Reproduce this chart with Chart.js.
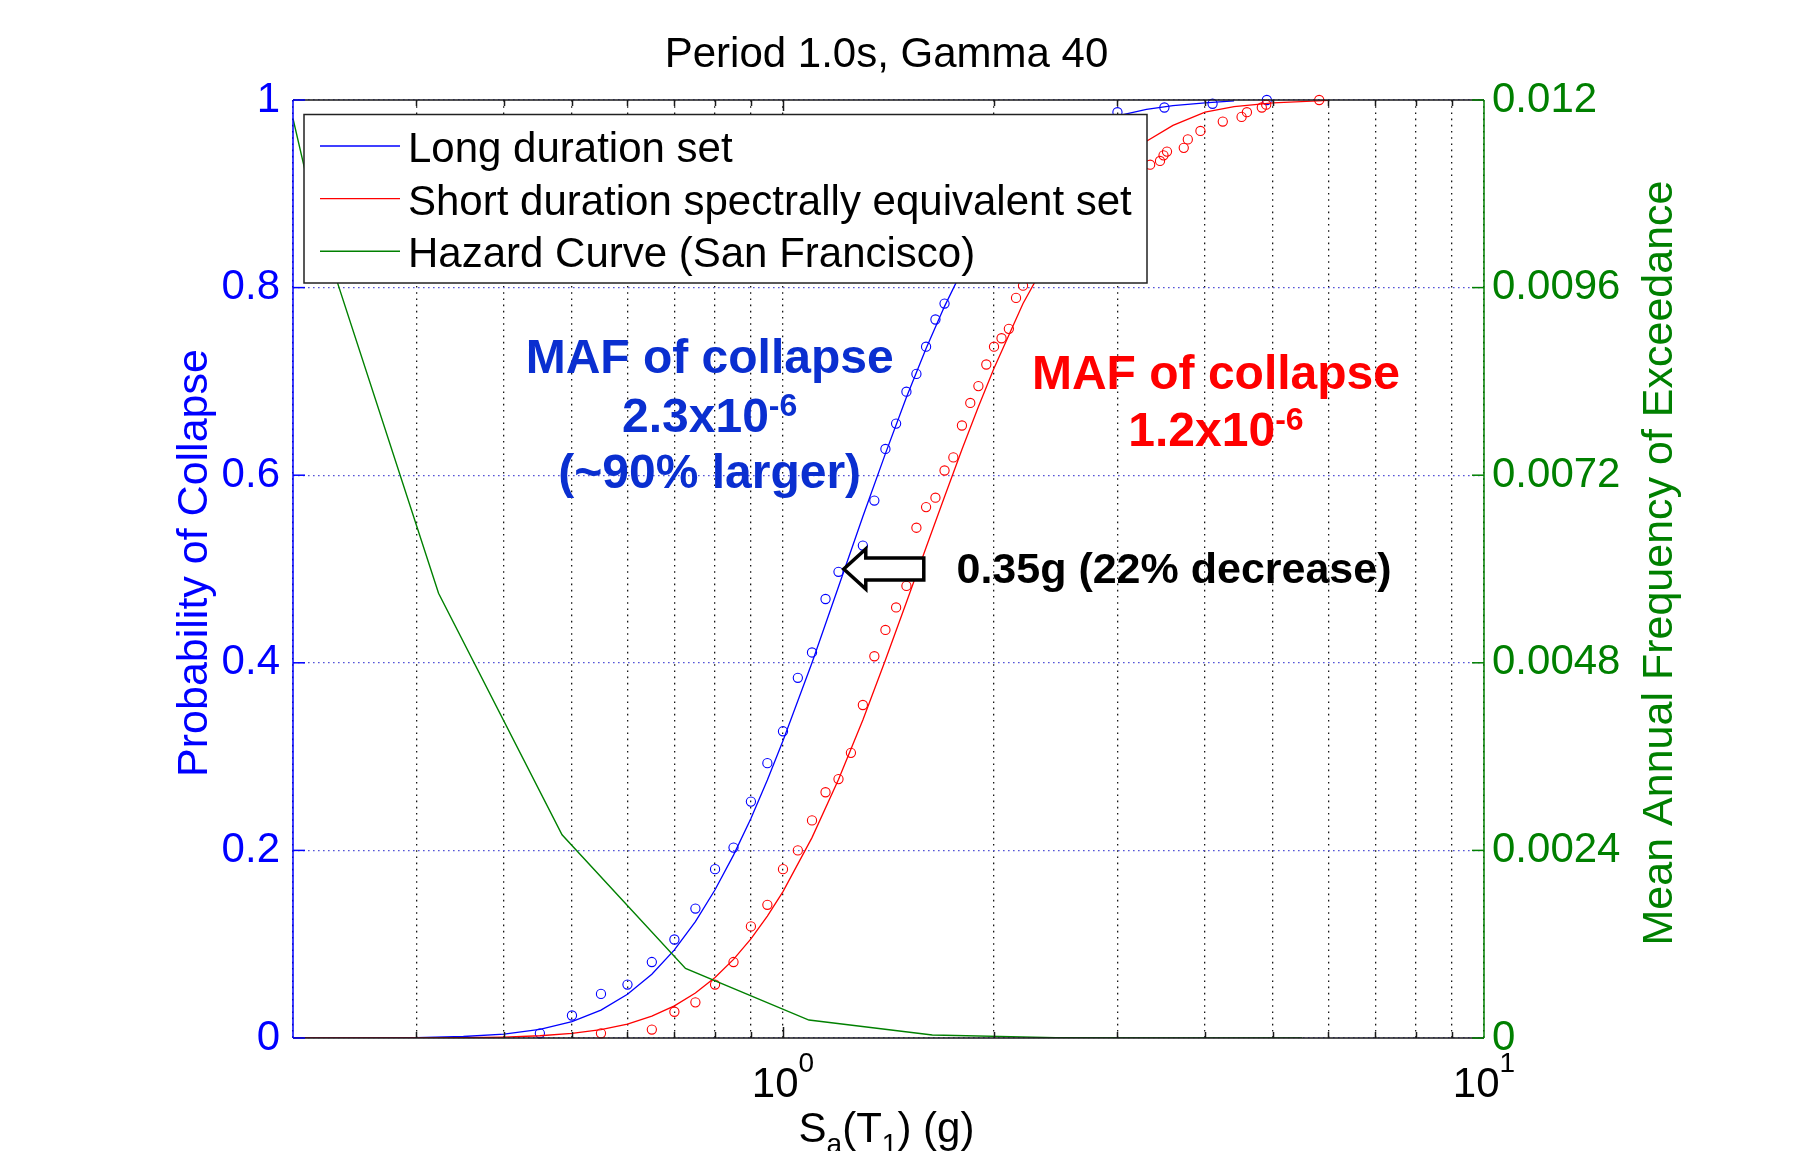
<!DOCTYPE html>
<html>
<head>
<meta charset="utf-8">
<title>Period 1.0s, Gamma 40</title>
<script src="https://cdn.jsdelivr.net/npm/chart.js@4/dist/chart.umd.min.js"></script>
<style>
  html, body { margin: 0; padding: 0; background: #ffffff; }
  #wrap { width: 1804px; height: 1151px; position: relative; }
</style>
</head>
<body>
<div id="wrap"><canvas id="chart"></canvas></div>
<script>
// axis ticks
const xTicks = [0.2, 0.3, 0.4, 0.5, 0.6, 0.7, 0.8, 0.9, 1, 2, 3, 4, 5, 6, 7, 8, 9, 10];
const xDecades = [1, 10];
const xDecadeExp = ['0', '1'];
const yTicks = [0, 0.2, 0.4, 0.6, 0.8, 1];
const yTickLabels = ['0', '0.2', '0.4', '0.6', '0.8', '1'];
const y2Ticks = [0, 0.0024, 0.0048, 0.0072, 0.0096, 0.012];
const y2TickLabels = ['0', '0.0024', '0.0048', '0.0072', '0.0096', '0.012'];

// fitted fragility curve, long duration set
const longFitSa = [0.2, 0.25, 0.3, 0.35, 0.4, 0.45, 0.5, 0.55, 0.6, 0.65, 0.7, 0.75, 0.8, 0.85, 0.9, 0.95, 1.0,
  1.1, 1.2, 1.3, 1.4, 1.5, 1.6, 1.7, 1.8, 1.9, 2.0, 2.2, 2.4, 2.6, 2.8, 3.0, 3.3, 3.6, 4.0, 4.4];
const longFitP = [0, 0.0001, 0.0005, 0.0016, 0.0042, 0.0092, 0.0175, 0.0298, 0.0466, 0.068, 0.094, 0.124, 0.158, 0.195, 0.234, 0.275, 0.317,
  0.400, 0.481, 0.556, 0.623, 0.683, 0.735, 0.780, 0.818, 0.849, 0.876, 0.916, 0.943, 0.962, 0.974, 0.983, 0.990, 0.994, 0.997, 0.999];

// fitted fragility curve, short duration set
const shortFitSa = [0.2, 0.25, 0.3, 0.35, 0.4, 0.45, 0.5, 0.55, 0.6, 0.65, 0.7, 0.75, 0.8, 0.85, 0.9, 0.95, 1.0,
  1.1, 1.2, 1.3, 1.4, 1.5, 1.6, 1.7, 1.8, 1.9, 2.0, 2.2, 2.4, 2.6, 2.8, 3.0, 3.3, 3.6, 4.0, 4.4, 5.0, 6.0];
const shortFitP = [0, 0.00005, 0.0001, 0.0003, 0.001, 0.0024, 0.0049, 0.0089, 0.0149, 0.0233, 0.0342, 0.048, 0.0645, 0.0838, 0.1056, 0.130, 0.156,
  0.2136, 0.2756, 0.339, 0.403, 0.4645, 0.523, 0.577, 0.6275, 0.673, 0.714, 0.783, 0.834, 0.874, 0.905, 0.930, 0.956, 0.973, 0.987, 0.993, 0.997, 0.9995];

// observed fraction of collapses, long duration set
const longSa = [0.45, 0.5, 0.55, 0.6, 0.65, 0.7, 0.75, 0.8, 0.85, 0.9, 0.95, 1.0, 1.05, 1.1, 1.15, 1.2,
  1.3, 1.35, 1.4, 1.45, 1.5, 1.55, 1.6, 1.65, 1.7, 3.0, 3.5, 4.1, 4.9];
const longP = [0.005, 0.024, 0.047, 0.057, 0.081, 0.105, 0.138, 0.180, 0.203, 0.252, 0.293, 0.327, 0.384, 0.411, 0.468, 0.497,
  0.525, 0.573, 0.628, 0.655, 0.689, 0.708, 0.737, 0.766, 0.783, 0.987, 0.992, 0.996, 1.0];

// observed fraction of collapses, short duration set
const shortSa = [0.55, 0.65, 0.7, 0.75, 0.8, 0.85, 0.9, 0.95, 1.0, 1.05, 1.1, 1.15, 1.2, 1.25, 1.3, 1.35, 1.4, 1.45, 1.5,
  1.55, 1.6, 1.65, 1.7, 1.75, 1.8, 1.85, 1.9, 1.95, 2.0, 2.05, 2.1, 2.15, 2.2,
  3.34, 3.45, 3.49, 3.53, 3.73, 3.78, 3.94, 4.24, 4.51, 4.59, 4.82, 4.89, 5.82];
const shortP = [0.005, 0.009, 0.028, 0.038, 0.057, 0.081, 0.119, 0.142, 0.180, 0.200, 0.232, 0.262, 0.276, 0.304, 0.355, 0.407, 0.435, 0.459, 0.482,
  0.544, 0.566, 0.576, 0.605, 0.619, 0.653, 0.677, 0.695, 0.718, 0.737, 0.746, 0.756, 0.789, 0.802,
  0.931, 0.935, 0.941, 0.945, 0.949, 0.958, 0.967, 0.977, 0.982, 0.987, 0.992, 0.995, 1.0];

// hazard curve (right axis)
const hazardSa = [0.2, 0.2151, 0.3226, 0.484, 0.726, 1.089, 1.633, 2.45, 3.67, 5.5];
const hazardMAF = [0.01176, 0.01054, 0.00569, 0.0026, 0.00089, 0.00023, 0.000038, 0.000005, 0.000001, 0];

const seriesLabels = ['Long duration set', 'Short duration spectrally equivalent set', 'Hazard Curve (San Francisco)'];

const BLUE = 'rgb(0,0,255)';
const RED = 'rgb(255,0,0)';
const GREEN = 'rgb(0,128,0)';
const NOTE_BLUE = '#0a2fd0';
const FONT = '"Liberation Sans", Arial, Helvetica, sans-serif';

// annotation anchors, in data units (Sa, probability)
const notes = {
  long: { x: 0.786, lines: [0.7086, 0.6464, 0.5864] },
  short: { x: 4.146, lines: [0.6916, 0.6314] },
  shift: { x: 1.768, y: 0.4848 },
  arrow: { tip: 1.221, tail: 1.588, y: 0.5 }
};

function pairs(xs, ys) {
  return xs.map((x, i) => ({ x: x, y: ys[i] }));
}

// draws text made of pieces, some raised or lowered (super/subscripts)
function richText(ctx, segs, x, y, align, weight, size, color) {
  ctx.save();
  ctx.fillStyle = color;
  ctx.textBaseline = 'alphabetic';
  ctx.textAlign = 'left';
  let w = 0;
  segs.forEach(sg => {
    ctx.font = weight + ' ' + Math.round(size * (sg.s || 1)) + 'px ' + FONT;
    w += ctx.measureText(sg.t).width;
  });
  let cx = x;
  if (align === 'center') cx = x - w / 2;
  if (align === 'right') cx = x - w;
  segs.forEach(sg => {
    ctx.font = weight + ' ' + Math.round(size * (sg.s || 1)) + 'px ' + FONT;
    ctx.fillText(sg.t, cx, y + (sg.dy || 0));
    cx += ctx.measureText(sg.t).width;
  });
  ctx.restore();
}

function line(ctx, x1, y1, x2, y2, color, width) {
  ctx.save();
  ctx.strokeStyle = color;
  ctx.lineWidth = width;
  ctx.setLineDash([]);
  ctx.beginPath();
  ctx.moveTo(x1, y1);
  ctx.lineTo(x2, y2);
  ctx.stroke();
  ctx.restore();
}

const decorPlugin = {
  id: 'decor',
  afterDraw(chart) {
    const ctx = chart.ctx;
    const ca = chart.chartArea;
    const xs = chart.scales.x;
    const ys = chart.scales.y;
    const ys2 = chart.scales.y1;

    // axis box: black top/bottom, blue left, green right
    line(ctx, ca.left, ca.top, ca.right, ca.top, '#1a1a1a', 1.5);
    line(ctx, ca.left, ca.bottom, ca.right, ca.bottom, '#1a1a1a', 1.5);
    line(ctx, ca.left, ca.top, ca.left, ca.bottom, BLUE, 1.5);
    line(ctx, ca.right, ca.top, ca.right, ca.bottom, GREEN, 1.5);

    // inward tick marks
    xTicks.forEach(v => {
      if (v === xTicks[0] || v === xTicks[xTicks.length - 1]) return;
      const px = Math.round(xs.getPixelForValue(v)) + 0.5;
      const len = xDecades.indexOf(v) >= 0 ? 11 : 6;
      line(ctx, px, ca.bottom, px, ca.bottom - len, '#1a1a1a', 1.5);
      line(ctx, px, ca.top, px, ca.top + len, '#1a1a1a', 1.5);
    });
    yTicks.forEach(v => {
      const py = ys.getPixelForValue(v);
      line(ctx, ca.left, py, ca.left + 12, py, BLUE, 1.5);
    });
    y2Ticks.forEach(v => {
      const py = ys2.getPixelForValue(v);
      line(ctx, ca.right, py, ca.right - 12, py, GREEN, 1.5);
    });

    // x tick labels 10^0, 10^1
    xDecades.forEach((v, i) => {
      richText(ctx, [{ t: '10' }, { t: xDecadeExp[i], s: 0.67, dy: -25 }],
        xs.getPixelForValue(v), ca.bottom + 59, 'center', 'normal', 42, '#000');
    });

    // legend box (drawn over the data like the original)
    const lg = { l: ca.left + 11, t: ca.top + 14.5, w: 843, h: 168.5 };
    ctx.save();
    ctx.fillStyle = '#ffffff';
    ctx.fillRect(lg.l, lg.t, lg.w, lg.h);
    ctx.strokeStyle = '#222';
    ctx.lineWidth = 1.5;
    ctx.strokeRect(lg.l, lg.t, lg.w, lg.h);
    ctx.font = '42px ' + FONT;
    ctx.textBaseline = 'alphabetic';
    ctx.textAlign = 'left';
    for (let i = 0; i < 3; i++) {
      const ds = chart.data.datasets[i];
      const base = lg.t + 47.5 + 52.6 * i;
      ctx.strokeStyle = ds.borderColor;
      ctx.lineWidth = 1.4;
      ctx.beginPath();
      ctx.moveTo(lg.l + 16, base - 16);
      ctx.lineTo(lg.l + 96, base - 16);
      ctx.stroke();
      ctx.fillStyle = '#000';
      ctx.fillText(ds.label, lg.l + 104, base);
    }
    ctx.restore();

    // annotations
    const ln = notes.long;
    const lx = xs.getPixelForValue(ln.x);
    richText(ctx, [{ t: 'MAF of collapse' }], lx, ys.getPixelForValue(ln.lines[0]), 'center', 'bold', 48, NOTE_BLUE);
    richText(ctx, [{ t: '2.3x10' }, { t: '-6', s: 0.66, dy: -16 }], lx, ys.getPixelForValue(ln.lines[1]), 'center', 'bold', 48, NOTE_BLUE);
    richText(ctx, [{ t: '(~90% larger)' }], lx, ys.getPixelForValue(ln.lines[2]), 'center', 'bold', 48, NOTE_BLUE);

    const sn = notes.short;
    const sx = xs.getPixelForValue(sn.x);
    richText(ctx, [{ t: 'MAF of collapse' }], sx, ys.getPixelForValue(sn.lines[0]), 'center', 'bold', 48, RED);
    richText(ctx, [{ t: '1.2x10' }, { t: '-6', s: 0.66, dy: -16 }], sx, ys.getPixelForValue(sn.lines[1]), 'center', 'bold', 48, RED);

    richText(ctx, [{ t: '0.35g (22% decrease)' }], xs.getPixelForValue(notes.shift.x), ys.getPixelForValue(notes.shift.y), 'left', 'bold', 43, '#000');

    // hollow arrow pointing at the long-duration median
    const ar = notes.arrow;
    const tx = xs.getPixelForValue(ar.tip);
    const tl = xs.getPixelForValue(ar.tail);
    const ty = ys.getPixelForValue(ar.y);
    ctx.save();
    ctx.setLineDash([]);
    ctx.beginPath();
    ctx.moveTo(tx, ty);
    ctx.lineTo(tx + 22, ty - 20);
    ctx.lineTo(tx + 22, ty - 11);
    ctx.lineTo(tl, ty - 11);
    ctx.lineTo(tl, ty + 11);
    ctx.lineTo(tx + 22, ty + 11);
    ctx.lineTo(tx + 22, ty + 20);
    ctx.closePath();
    ctx.fillStyle = '#fff';
    ctx.fill();
    ctx.lineWidth = 3.5;
    ctx.lineJoin = 'miter';
    ctx.strokeStyle = '#000';
    ctx.stroke();
    ctx.restore();

    // title and axis titles
    richText(ctx, [{ t: 'Period 1.0s, Gamma 40' }], (ca.left + ca.right) / 2 - 2, 67, 'center', 'normal', 42, '#000');
    richText(ctx, [{ t: 'S' }, { t: 'a', s: 0.67, dy: 11 }, { t: '(T' }, { t: '1', s: 0.67, dy: 11 }, { t: ') (g)' }],
      (ca.left + ca.right) / 2 - 2, ca.bottom + 104, 'center', 'normal', 42, '#000');

    const midY = (ca.top + ca.bottom) / 2 - 6;
    ctx.save();
    ctx.translate(ca.left - 86, midY);
    ctx.rotate(-Math.PI / 2);
    richText(ctx, [{ t: 'Probability of Collapse' }], 0, 0, 'center', 'normal', 43, BLUE);
    ctx.restore();
    ctx.save();
    ctx.translate(ca.right + 188, midY);
    ctx.rotate(-Math.PI / 2);
    richText(ctx, [{ t: 'Mean Annual Frequency of Exceedance' }], 0, 0, 'center', 'normal', 43, GREEN);
    ctx.restore();
  }
};

Chart.defaults.font.family = FONT;

const ctx = document.getElementById('chart').getContext('2d');
const chart = new Chart(ctx, {
  type: 'line',
  data: {
    datasets: [
      {
        label: seriesLabels[0],
        data: pairs(longFitSa, longFitP),
        borderColor: BLUE,
        borderWidth: 1.3,
        pointRadius: 0,
        tension: 0,
        yAxisID: 'y',
        order: 3
      },
      {
        label: seriesLabels[1],
        data: pairs(shortFitSa, shortFitP),
        borderColor: RED,
        borderWidth: 1.3,
        pointRadius: 0,
        tension: 0,
        yAxisID: 'y',
        order: 2
      },
      {
        label: seriesLabels[2],
        data: pairs(hazardSa, hazardMAF),
        borderColor: GREEN,
        borderWidth: 1.4,
        pointRadius: 0,
        tension: 0,
        yAxisID: 'y1',
        order: 1
      },
      {
        label: 'long observed',
        data: pairs(longSa, longP),
        showLine: false,
        borderColor: BLUE,
        pointBorderColor: BLUE,
        pointBackgroundColor: 'rgba(0,0,0,0)',
        pointRadius: 4.6,
        pointBorderWidth: 1.1,
        yAxisID: 'y',
        clip: false,
        order: 5
      },
      {
        label: 'short observed',
        data: pairs(shortSa, shortP),
        showLine: false,
        borderColor: RED,
        pointBorderColor: RED,
        pointBackgroundColor: 'rgba(0,0,0,0)',
        pointRadius: 4.6,
        pointBorderWidth: 1.1,
        yAxisID: 'y',
        clip: false,
        order: 4
      }
    ]
  },
  options: {
    responsive: true,
    maintainAspectRatio: false,
    animation: false,
    devicePixelRatio: 1,
    layout: { padding: { top: 100, left: 0, right: 0, bottom: 0 } },
    plugins: {
      legend: { display: false },
      tooltip: { enabled: false },
      title: { display: false }
    },
    scales: {
      x: {
        type: 'logarithmic',
        min: 0.2,
        max: 10,
        afterBuildTicks: (scale) => { scale.ticks = xTicks.map(v => ({ value: v })); },
        afterFit: (scale) => { scale.height = 113; },
        ticks: { display: false, autoSkip: false },
        grid: {
          color: 'rgba(10,10,10,0.95)',
          lineWidth: 1.3,
          drawTicks: false
        },
        // in v4 the dash of the grid lines lives under border
        border: { display: false, dash: [1.6, 4.6] }
      },
      y: {
        type: 'linear',
        position: 'left',
        min: 0,
        max: 1,
        afterBuildTicks: (scale) => { scale.ticks = yTicks.map(v => ({ value: v })); },
        afterFit: (scale) => { scale.width = 293; },
        ticks: {
          color: BLUE,
          font: { size: 42 },
          padding: 13,
          callback: (v) => { const i = yTicks.indexOf(v); return i >= 0 ? yTickLabels[i] : ''; }
        },
        grid: {
          color: 'rgb(85,85,215)',
          lineWidth: 1.3,
          drawTicks: false
        },
        border: { display: false, dash: [1.6, 3.4] }
      },
      y1: {
        type: 'linear',
        position: 'right',
        min: 0,
        max: 0.012,
        afterBuildTicks: (scale) => { scale.ticks = y2Ticks.map(v => ({ value: v })); },
        afterFit: (scale) => { scale.width = 320; },
        ticks: {
          color: GREEN,
          font: { size: 42 },
          padding: 8,
          callback: (v) => { const i = y2Ticks.indexOf(v); return i >= 0 ? y2TickLabels[i] : ''; }
        },
        grid: { display: false, drawTicks: false },
        border: { display: false }
      }
    }
  },
  plugins: [decorPlugin]
});
</script>
</body>
</html>
